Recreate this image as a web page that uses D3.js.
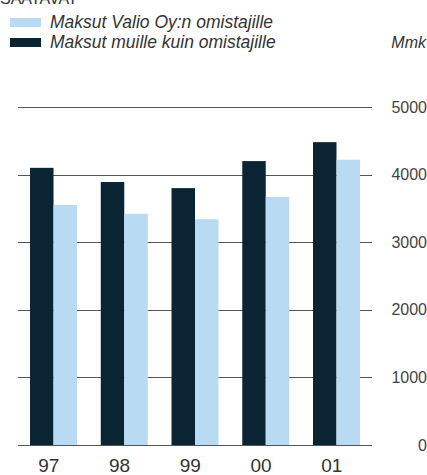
<!DOCTYPE html>
<html>
<head>
<meta charset="utf-8">
<script src="https://cdn.jsdelivr.net/npm/d3@7"></script>
<style>
  body { margin: 0; background: #fff; }
  svg { display: block; font-family: "Liberation Sans", Arial, sans-serif; }
</style>
</head>
<body>
<div id="chart"></div>
<script>
// Data
var years = ['97', '98', '99', '00', '01'];
var owners = [3550, 3420, 3340, 3670, 4220];      // Maksut Valio Oy:n omistajille
var others = [4100, 3890, 3800, 4200, 4480];      // Maksut muille kuin omistajille
var yTicks = [0, 1000, 2000, 3000, 4000, 5000];
var seriesNames = ['Maksut Valio Oy:n omistajille', 'Maksut muille kuin omistajille'];

var width = 427;
var height = 475;
var darkColor = '#0a2433';
var lightColor = '#b8daf2';

var svg = d3.select('#chart')
  .append('svg')
  .attr('width', width)
  .attr('height', height);

// Title (cut off at the top of the picture)
svg.append('text')
  .attr('x', 0)
  .attr('y', 4)
  .attr('font-size', 16)
  .attr('fill', '#333')
  .text('SAATAVAT');

// Legend
var legend = svg.selectAll('.legend')
  .data(seriesNames)
  .enter()
  .append('g')
  .attr('class', 'legend')
  .attr('transform', function (d, i) {
    return 'translate(10,' + (18 + i * 20) + ')';
  });
legend.append('rect')
  .attr('width', 31)
  .attr('height', 9)
  .attr('fill', function (d, i) { return i === 0 ? lightColor : darkColor; });
legend.append('text')
  .attr('x', 40)
  .attr('y', 9.5)
  .attr('font-size', 17.5)
  .attr('font-style', 'italic')
  .attr('fill', '#333')
  .text(function (d) { return d; });

svg.append('text')
  .attr('x', 426)
  .attr('y', 48)
  .attr('text-anchor', 'end')
  .attr('font-size', 16)
  .attr('font-style', 'italic')
  .attr('fill', '#333')
  .text('Mmk');

// Scales
var x = d3.scaleBand()
  .domain(years)
  .range([18, 372])
  .paddingInner(0.336)
  .paddingOuter(0.17);
var y = d3.scaleLinear()
  .domain([0, 5000])
  .range([445, 107]);

// Grid lines
svg.selectAll('.grid')
  .data(yTicks)
  .enter()
  .append('line')
  .attr('class', 'grid')
  .attr('x1', 18)
  .attr('x2', 372)
  .attr('y1', function (d) { return Math.round(y(d)) + 0.5; })
  .attr('y2', function (d) { return Math.round(y(d)) + 0.5; })
  .attr('stroke', '#555')
  .attr('stroke-width', 1);

// Y tick labels on the right
svg.selectAll('.ytick')
  .data(yTicks)
  .enter()
  .append('text')
  .attr('class', 'ytick')
  .attr('x', 427)
  .attr('y', function (d) { return y(d) + 5.5; })
  .attr('text-anchor', 'end')
  .attr('font-size', 16)
  .attr('fill', '#444')
  .text(function (d) { return d; });

// Bars
var barW = x.bandwidth() / 2;
var groups = svg.selectAll('.year')
  .data(years)
  .enter()
  .append('g')
  .attr('class', 'year')
  .attr('transform', function (d) { return 'translate(' + x(d) + ',0)'; });
groups.append('rect')
  .attr('x', 0)
  .attr('y', function (d, i) { return y(others[i]); })
  .attr('width', barW)
  .attr('height', function (d, i) { return y(0) - y(others[i]); })
  .attr('fill', darkColor);
groups.append('rect')
  .attr('x', barW)
  .attr('y', function (d, i) { return y(owners[i]); })
  .attr('width', barW)
  .attr('height', function (d, i) { return y(0) - y(owners[i]); })
  .attr('fill', lightColor);

// X labels
groups.append('text')
  .attr('x', x.bandwidth() * 0.4)
  .attr('y', 472)
  .attr('text-anchor', 'middle')
  .attr('font-size', 19)
  .attr('fill', '#333')
  .text(function (d) { return d; });
</script>
</body>
</html>
